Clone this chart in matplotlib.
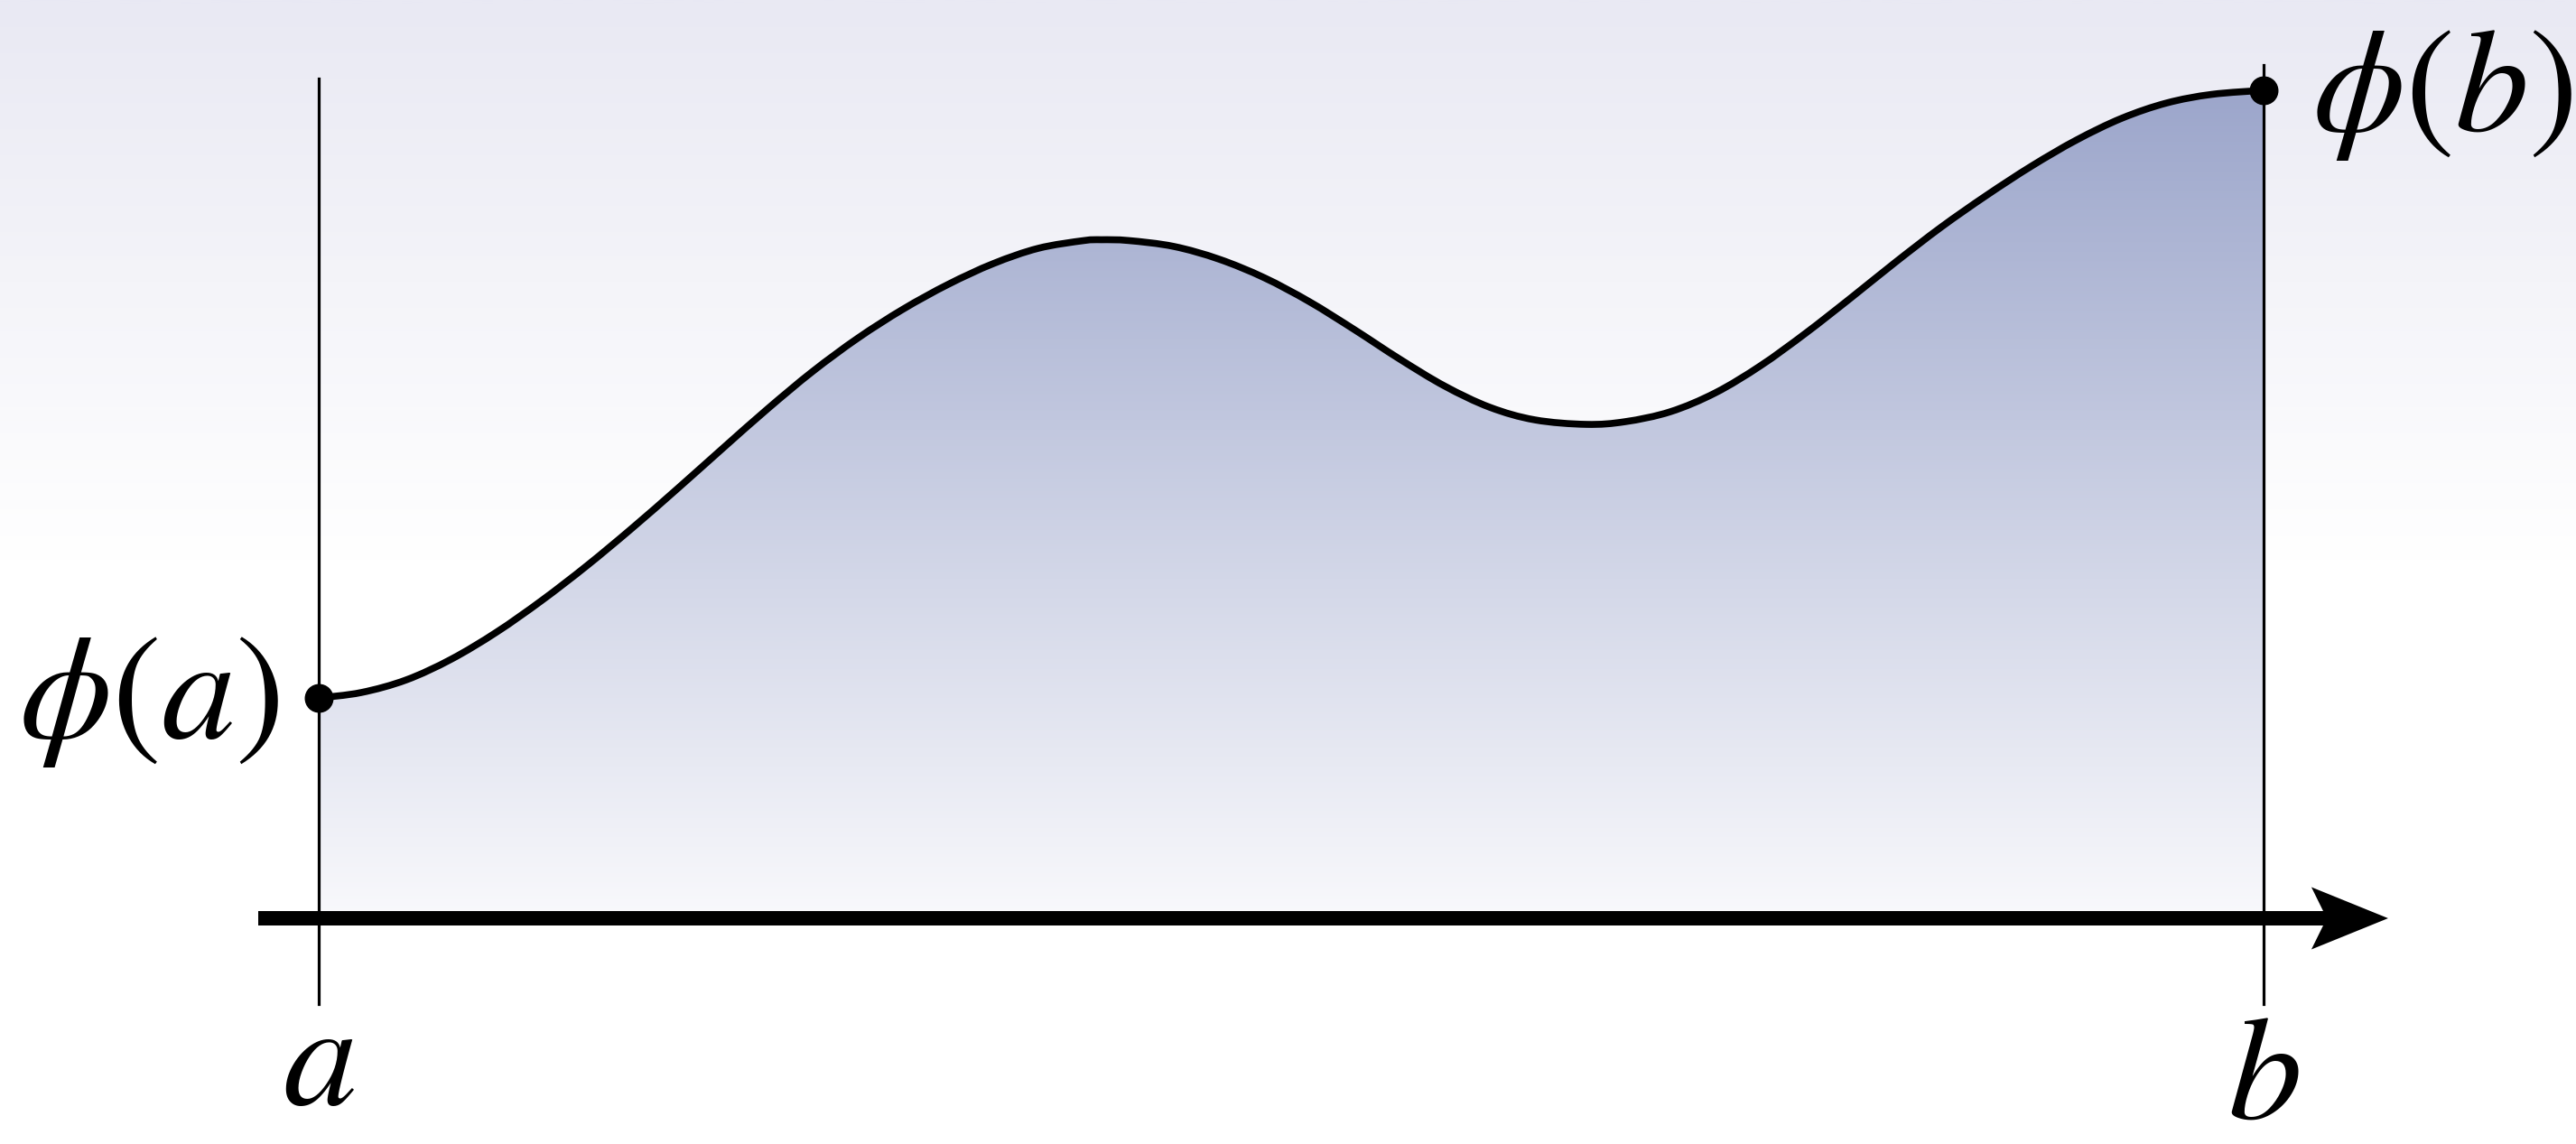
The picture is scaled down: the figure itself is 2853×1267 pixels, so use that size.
import numpy as np
import matplotlib.pyplot as plt
import matplotlib.transforms as mtransforms
from matplotlib.patches import Polygon, PathPatch
from matplotlib.path import Path
from matplotlib.colors import LinearSegmentedColormap

plt.rcParams['mathtext.fontset'] = 'stix'

# curve phi(x); a = 0, b = 10, the x axis is phi = 0
x_pts = [0.000, 0.218, 0.450, 0.682, 0.915, 1.147, 1.379, 1.611, 1.843, 2.075,
         2.307, 2.539, 2.772, 3.004, 3.236, 3.468, 3.700, 3.932, 4.025, 4.164,
         4.396, 4.629, 4.861, 5.093, 5.325, 5.557, 5.789, 6.021, 6.253, 6.518,
         6.718, 6.950, 7.182, 7.414, 7.646, 7.878, 8.110, 8.343, 8.575, 8.807,
         9.039, 9.271, 9.503, 9.735, 10.000]
phi_pts = [2.440, 2.500, 2.640, 2.870, 3.170, 3.520, 3.905, 4.320, 4.755, 5.200,
           5.640, 6.055, 6.425, 6.745, 7.020, 7.250, 7.420, 7.505, 7.515, 7.506,
           7.441, 7.300, 7.095, 6.830, 6.520, 6.195, 5.895, 5.660, 5.520, 5.470,
           5.500, 5.610, 5.820, 6.120, 6.480, 6.870, 7.270, 7.655, 8.005, 8.330,
           8.620, 8.860, 9.030, 9.125, 9.170]

a_val, b_val = 0.0, 10.0
tick_labels = [r'$a$', r'$b$']
end_labels = [r'$\phi(a)$', r'$\phi(b)$']

fig = plt.figure(figsize=(28.53, 12.67), dpi=100)
ax = fig.add_axes([0, 0, 1, 1])
xmin, xmax = -1.639, 11.607
ymin, ymax = -2.5, 10.17
ax.axis('off')


def smooth_path(xs, ys):
    # cubic Bezier segments through every read point (Catmull-Rom tangents)
    p = np.column_stack([xs, ys])
    q = np.vstack([p[:1], p, p[-1:]])
    verts = [tuple(p[0])]
    codes = [Path.MOVETO]
    for i in range(len(p) - 1):
        c1 = q[i + 1] + (q[i + 2] - q[i]) / 6
        c2 = q[i + 2] - (q[i + 3] - q[i + 1]) / 6
        verts += [tuple(c1), tuple(c2), tuple(p[i + 1])]
        codes += [Path.CURVE4] * 3
    return verts, codes


verts, codes = smooth_path(x_pts, phi_pts)
curve = Path(verts, codes)
area = Path(verts + [(b_val, 0), (a_val, 0), (a_val, phi_pts[0])],
            codes + [Path.LINETO, Path.LINETO, Path.CLOSEPOLY])

# background: light lavender at the top fading to white
bg_cmap = LinearSegmentedColormap.from_list('bg', [(0, 'white'), (0.51, 'white'), (1, '#e9e9f3')])
ax.imshow(np.linspace(0, 1, 512).reshape(-1, 1), cmap=bg_cmap, origin='lower',
          extent=[xmin, xmax, ymin, ymax], aspect='auto', zorder=0)

# gradient fill under the curve
fill_cmap = LinearSegmentedColormap.from_list('fill', ['#f9f9fc', '#9ca6cb'])
im = ax.imshow(np.linspace(0, 1, 512).reshape(-1, 1), cmap=fill_cmap, origin='lower',
               extent=[a_val, b_val, 0, max(phi_pts)], aspect='auto', zorder=1)
im.set_clip_path(area, ax.transData)
ax.set_xlim(xmin, xmax)
ax.set_ylim(ymin, ymax)

# vertical guide lines at a and b
ax.plot([a_val, a_val], [-0.95, 9.30], color='black', lw=2.3, zorder=2)
ax.plot([b_val, b_val], [-0.95, 9.45], color='black', lw=2.3, zorder=2)

# x axis with a stealth arrow head
tip_x = 10.641
ax.plot([-0.311, tip_x - 0.30], [0, 0], color='black', lw=11.5,
        solid_capstyle='butt', zorder=3)
head_tr = fig.dpi_scale_trans + mtransforms.ScaledTranslation(tip_x, 0, ax.transData)
ax.add_patch(Polygon([(0, 0), (-0.85, 0.345), (-0.68, 0), (-0.85, -0.345)],
                     closed=True, facecolor='black', edgecolor='none',
                     transform=head_tr, zorder=3))

# the curve and its end points
ax.add_patch(PathPatch(curve, fill=False, edgecolor='black', lw=5.5,
                       capstyle='round', joinstyle='round', zorder=4))
ax.plot([a_val, b_val], [phi_pts[0], phi_pts[-1]], 'o', ms=22, color='black', zorder=5)

# labels
fs = 118
ax.text(a_val - 0.204, phi_pts[0], end_labels[0], ha='right', va='center', fontsize=fs)
ax.text(b_val + 0.25, phi_pts[-1], end_labels[1], ha='left', va='center', fontsize=fs)
ax.text(a_val, -2.06, tick_labels[0], ha='center', va='baseline', fontsize=fs)
ax.text(b_val, -2.22, tick_labels[1], ha='center', va='baseline', fontsize=fs)

fig.savefig('out.png', dpi=100)
